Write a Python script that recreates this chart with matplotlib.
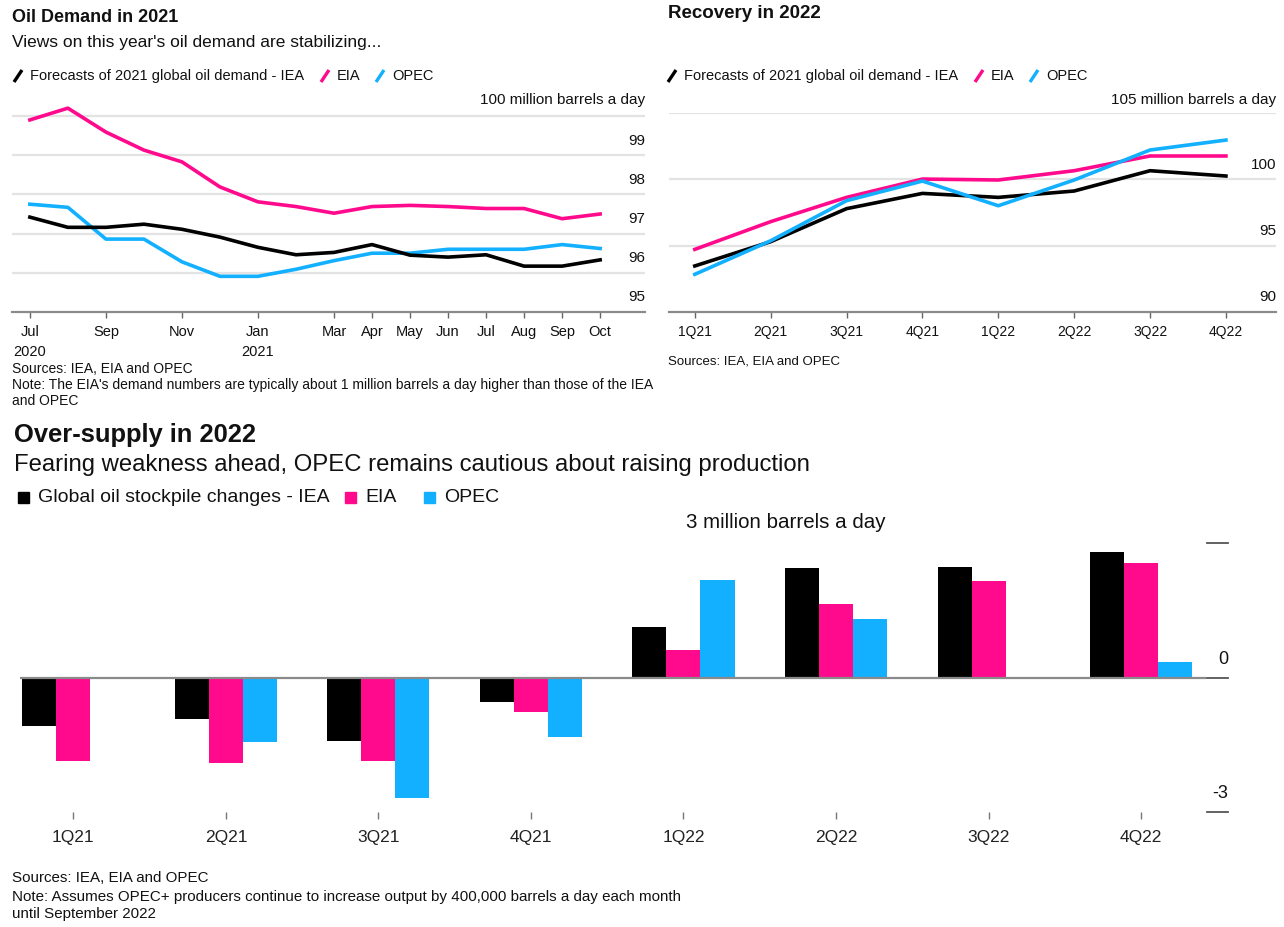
import matplotlib
matplotlib.use("Agg")
import matplotlib.pyplot as plt
from matplotlib.lines import Line2D
from matplotlib.patches import Rectangle

# --- data -------------------------------------------------------------
months = ["Jul\n2020", "Aug", "Sep", "Oct", "Nov", "Dec", "Jan\n2021", "Feb",
          "Mar", "Apr", "May", "Jun", "Jul", "Aug", "Sep", "Oct"]
month_ticks = [0, 2, 4, 6, 8, 9, 10, 11, 12, 13, 14, 15]
iea_2021 = [97.42, 97.16, 97.16, 97.24, 97.11, 96.91, 96.65, 96.46,
            96.52, 96.72, 96.45, 96.40, 96.46, 96.17, 96.17, 96.33]
eia_2021 = [99.90, 100.20, 99.59, 99.13, 98.83, 98.19, 97.81, 97.69,
            97.52, 97.69, 97.72, 97.69, 97.64, 97.64, 97.38, 97.50]
opec_2021 = [97.75, 97.67, 96.86, 96.86, 96.28, 95.91, 95.91, 96.09,
             96.31, 96.50, 96.50, 96.60, 96.60, 96.60, 96.72, 96.62]

quarters = ["1Q21", "2Q21", "3Q21", "4Q21", "1Q22", "2Q22", "3Q22", "4Q22"]
iea_2022 = [93.47, 95.30, 97.79, 98.94, 98.64, 99.12, 100.65, 100.25]
eia_2022 = [94.72, 96.81, 98.64, 100.02, 99.95, 100.65, 101.76, 101.76]
opec_2022 = [92.84, 95.37, 98.39, 99.87, 98.01, 99.95, 102.21, 102.96]

iea_stock = [-1.09, -0.93, -1.42, -0.54, 1.12, 2.45, 2.47, 2.80]
eia_stock = [-1.87, -1.90, -1.87, -0.78, 0.61, 1.63, 2.15, 2.56]
opec_stock = [-0.04, -1.44, -2.68, -1.33, 2.18, 1.30, -0.04, 0.35]

BLACK = "#000000"
PINK = "#ff0a8c"
BLUE = "#12b0ff"
GRID = "#e3e3e3"
AXIS = "#8a8a8a"
TXT = "#111111"

W, H = 1284, 927
plt.rcParams["font.family"] = ["Liberation Sans", "DejaVu Sans"]


def px_axes(fig, left, top, right, bottom):
    return fig.add_axes([left / W, 1 - bottom / H, (right - left) / W, (bottom - top) / H])


def ftext(fig, x, y, s, **kw):
    kw.setdefault("color", TXT)
    kw.setdefault("va", "center")
    return fig.text(x / W, 1 - y / H, s, **kw)


def slash(fig, x, y, color):
    fig.add_artist(Line2D([x / W, (x + 8) / W], [1 - (y + 6) / H, 1 - (y - 6) / H],
                          color=color, lw=2.4, solid_capstyle="butt"))


def square(fig, x, y, color, size=11):
    fig.add_artist(Rectangle((x / W, 1 - (y + size / 2) / H), size / W, size / H,
                             color=color, transform=fig.transFigure))


def line_legend(fig, x0, y, first, fs):
    xs = [x0, x0 + 307, x0 + 362]
    labels = [first, "EIA", "OPEC"]
    for x, lab, c in zip(xs, labels, [BLACK, PINK, BLUE]):
        slash(fig, x, y, c)
        ftext(fig, x + 16, y, lab, fontsize=fs)


def style_line_axes(ax):
    for s in ["top", "left", "right"]:
        ax.spines[s].set_visible(False)
    ax.spines["bottom"].set_color(AXIS)
    ax.spines["bottom"].set_linewidth(1.6)
    ax.set_yticks([])
    ax.tick_params(axis="x", direction="out", length=4.5, width=1, color="#666666",
                   pad=5, labelsize=10.5, labelcolor=TXT)


def main():
    fig = plt.figure(figsize=(W / 100, H / 100), dpi=100)

    # ---------------- top left: demand in 2021 ----------------
    ax1 = px_axes(fig, 12, 95, 645, 312)
    ax1.set_ylim(95, 95 + 217 / 39.2)
    ax1.set_xlim(-0.47, 16.18)
    for v in [96, 97, 98, 99, 100]:
        ax1.axhline(v, color=GRID, lw=1.6, zorder=0)
    for vals, c in [(eia_2021, PINK), (opec_2021, BLUE), (iea_2021, BLACK)]:
        ax1.plot(range(len(vals)), vals, color=c, lw=2.6, solid_joinstyle="round")
    style_line_axes(ax1)
    ax1.set_xticks(month_ticks)
    ax1.set_xticklabels([months[i] for i in month_ticks], linespacing=1.5)
    for v in [95, 96, 97, 98, 99]:
        ax1.text(16.18, v + 0.37, str(v), ha="right", va="center", fontsize=11, color=TXT)
    ax1.text(16.18, 100 + 0.4, "100 million barrels a day", ha="right", va="center",
             fontsize=11, color=TXT)

    ftext(fig, 12, 18, "Oil Demand in 2021", fontsize=13, weight="bold")
    ftext(fig, 12, 42, "Views on this year's oil demand are stabilizing...", fontsize=12.5)
    line_legend(fig, 14, 76, "Forecasts of 2021 global oil demand - IEA", 10.5)
    ftext(fig, 12, 369, "Sources: IEA, EIA and OPEC", fontsize=10)
    ftext(fig, 12, 385, "Note: The EIA's demand numbers are typically about 1 million barrels "
                        "a day higher than those of the IEA", fontsize=10)
    ftext(fig, 12, 401, "and OPEC", fontsize=10)

    # ---------------- top right: recovery in 2022 ----------------
    ax2 = px_axes(fig, 669, 113, 1276, 312)
    ax2.set_ylim(90, 105)
    ax2.set_xlim(-0.34, 7.66)
    for v in [95, 100, 105]:
        ax2.axhline(v, color=GRID, lw=1.6, zorder=0)
    for vals, c in [(eia_2022, PINK), (iea_2022, BLACK), (opec_2022, BLUE)]:
        ax2.plot(range(len(vals)), vals, color=c, lw=2.6, solid_joinstyle="round")
    style_line_axes(ax2)
    ax2.set_xticks(range(len(quarters)))
    ax2.set_xticklabels(quarters, fontsize=10)
    for v in [90, 95, 100]:
        ax2.text(7.66, v + 1.1, str(v), ha="right", va="center", fontsize=11, color=TXT)
    ax2.text(7.66, 105 + 1.0, "105 million barrels a day", ha="right", va="center",
             fontsize=11, color=TXT)

    ftext(fig, 668, 14, "Recovery in 2022", fontsize=13.5, weight="bold")
    line_legend(fig, 668, 76, "Forecasts of 2021 global oil demand - IEA", 10.5)
    ftext(fig, 668, 362, "Sources: IEA, EIA and OPEC", fontsize=9.5)

    # ---------------- bottom: stockpile changes ----------------
    ax3 = px_axes(fig, 20, 543, 1228, 812)
    ax3.set_ylim(-3, 3)
    ax3.set_xlim(-0.35, 7.57)
    bw = 0.223
    x = list(range(len(quarters)))
    for k, (vals, c) in enumerate([(iea_stock, BLACK), (eia_stock, PINK), (opec_stock, BLUE)]):
        ax3.bar([i + (k - 1) * bw for i in x], vals, width=bw, color=c, linewidth=0, zorder=2)
    ax3.axhline(0, xmax=(1205 - 20) / (1228 - 20), color=AXIS, lw=1.6, zorder=3)
    for v in [3, 0, -3]:
        ax3.plot([7.57 - 21 / 152.5, 7.57], [v, v], color="#555555", lw=1.3,
                 clip_on=False, zorder=3)
    for s in ax3.spines.values():
        s.set_visible(False)
    ax3.set_yticks([])
    ax3.set_xticks(x)
    ax3.set_xticklabels(quarters)
    ax3.tick_params(axis="x", direction="out", length=5, width=1, color="#777777",
                    pad=8, labelsize=12.5, labelcolor="#222222")
    ax3.text(7.57, 0 + 0.4, "0", ha="right", va="center", fontsize=13, color=TXT)
    ax3.text(7.57, -3 + 0.42, "-3", ha="right", va="center", fontsize=13, color=TXT)
    ax3.text(4.67, 3 + 0.45, "3 million barrels a day", ha="center",
             va="center", fontsize=14.8, color=TXT)

    ftext(fig, 14, 435, "Over-supply in 2022", fontsize=18.4, weight="bold")
    ftext(fig, 14, 465, "Fearing weakness ahead, OPEC remains cautious about raising production",
          fontsize=17.2)
    sq_x = [18, 345, 424]
    for xx, lab, c in zip(sq_x, ["Global oil stockpile changes - IEA", "EIA", "OPEC"],
                          [BLACK, PINK, BLUE]):
        square(fig, xx, 497, c)
        ftext(fig, xx + 20, 497, lab, fontsize=14)
    ftext(fig, 12, 878, "Sources: IEA, EIA and OPEC", fontsize=10.9)
    ftext(fig, 12, 897, "Note: Assumes OPEC+ producers continue to increase output by 400,000 "
                        "barrels a day each month", fontsize=10.9)
    ftext(fig, 12, 914, "until September 2022", fontsize=10.9)

    fig.savefig("out.png", dpi=100, facecolor="white")


if __name__ == "__main__":
    main()
